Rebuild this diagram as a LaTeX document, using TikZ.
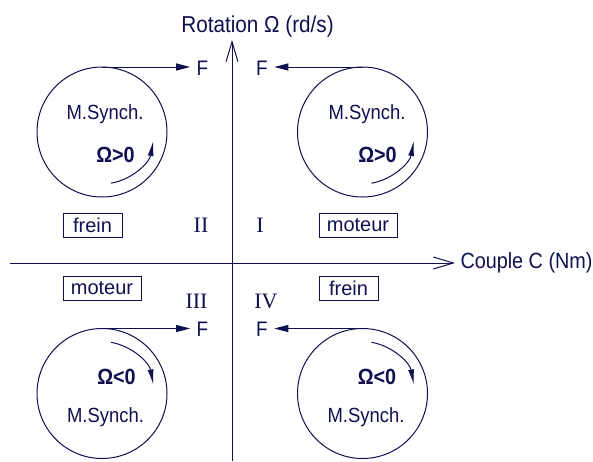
\documentclass[tikz,border=0pt]{standalone}
\usepackage{fontspec}
\setmainfont{Liberation Sans}
\newfontfamily\narrowfont{Liberation Sans}[FakeStretch=0.9]
\newfontfamily\romfont{Liberation Serif}
\usetikzlibrary{arrows.meta}
\definecolor{ink}{RGB}{16,16,80}
\tikzset{
  motor/.style={circle, draw, minimum size=130pt, inner sep=0pt, outer sep=0pt},
  synch/.style={font=\narrowfont\fontsize{20.5}{22}\selectfont, anchor=base, inner sep=0pt},
  omega/.style={font=\narrowfont\bfseries\fontsize{22}{24}\selectfont, anchor=base, inner sep=0pt},
  flab/.style={font=\narrowfont\fontsize{21}{23}\selectfont, anchor=base, inner xsep=6pt, inner ysep=0pt},
  quadlab/.style={font=\romfont\fontsize{22}{24}\selectfont, anchor=base, inner sep=0pt},
  modebox/.style={draw, line width=0.8pt, minimum height=24pt, inner sep=0pt, font=\fontsize{20}{22}\selectfont},
  axislabel/.style={font=\narrowfont\fontsize{22}{24}\selectfont, inner sep=0pt},
  axisline/.style={-{Straight Barb[length=20pt,width=12pt]}},
  force/.style={-{Triangle[length=14pt,width=7pt]}},
  turn/.style={-{Latex[length=15pt,width=6pt]}}
}
\begin{document}
\begin{tikzpicture}[x=1pt,y=-1pt,line width=1pt,color=ink,text=ink]
\useasboundingbox (0,0) rectangle (593,461);
% axes
\coordinate (vbot) at (232,461);
\coordinate (vtop) at (232,40);
\coordinate (hleft) at (10,263);
\coordinate (hright) at (455,263);
\draw[axisline] (vbot) -- (vtop);
\draw[axisline] (hleft) -- (hright);
\node[axislabel, anchor=base, font=\narrowfont\fontsize{23}{25}\selectfont] (ylab) at (257.5,32) {Rotation Ω (rd/s)};
\node[axislabel, anchor=base west] (xlab) at (460,268) {Couple C (Nm)};
% machines
\node[motor] (m1) at (102,132) {};
\node[motor] (m2) at (362.5,132) {};
\node[motor] (m3) at (102,393.5) {};
\node[motor] (m4) at (362.5,393.5) {};
\node[synch] (s1) at (105,119) {M.Synch.};
\node[synch] (s2) at (367,119) {M.Synch.};
\node[synch] (s3) at (105.5,422) {M.Synch.};
\node[synch] (s4) at (366,422) {M.Synch.};
\node[omega] (o1) at (115.5,162) {Ω>0};
\node[omega] (o2) at (377.5,162) {Ω>0};
\node[omega] (o3) at (116.5,384) {Ω<0};
\node[omega] (o4) at (377,384) {Ω<0};
% rotation arrows
\draw[turn] ([shift={(80:52)}]m1.center) arc[start angle=80, end angle=10, radius=52];
\draw[turn] ([shift={(80:52)}]m2.center) arc[start angle=80, end angle=10, radius=52];
\draw[turn] ([shift={(-80:52)}]m3.center) arc[start angle=-80, end angle=-10, radius=52];
\draw[turn] ([shift={(-80:52)}]m4.center) arc[start angle=-80, end angle=-10, radius=52];
% forces
\node[flab] (F1) at (202.5,75) {F};
\node[flab] (F2) at (262,75) {F};
\node[flab] (F3) at (202.5,336) {F};
\node[flab] (F4) at (262,336) {F};
\draw[force] (m1.north) -- (m1.north -| F1.west);
\draw[force] (m2.north) -- (m2.north -| F2.east);
\draw[force] (m3.north) -- (m3.north -| F3.west);
\draw[force] (m4.north) -- (m4.north -| F4.east);
% quadrants
\node[quadlab] (q2) at (201,232) {II};
\node[quadlab] (q1) at (260,232) {I};
\node[quadlab] (q3) at (196.5,308) {III};
\node[quadlab] (q4) at (266,308) {IV};
% mode boxes
\node[modebox, minimum width=59pt] (b1) at (92.5,225) {frein};
\node[modebox, minimum width=78pt] (b2) at (358,225) {moteur};
\node[modebox, minimum width=78pt] (b3) at (102,288) {moteur};
\node[modebox, minimum width=59pt] (b4) at (348.5,288) {frein};
\end{tikzpicture}
\end{document}
